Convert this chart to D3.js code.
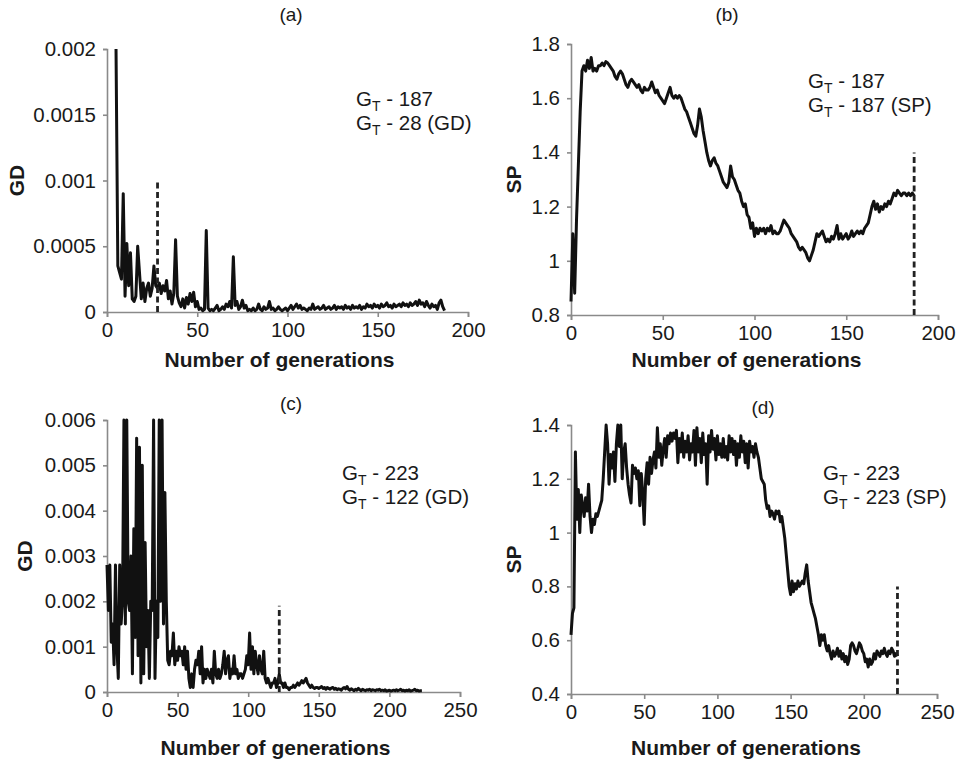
<!DOCTYPE html>
<html>
<head>
<meta charset="utf-8">
<script src="https://cdn.jsdelivr.net/npm/d3@7"></script>
<style>
body { margin: 0; background: #fff; }
svg text { font-family: "Liberation Sans", Arial, sans-serif; fill: #1a1a1a; }
</style>
</head>
<body>
<div class="mainView"></div>
<script>
// GD per generation, run 1 (starts at generation 5)
let gdStartA = 5
let gdA = [
0.0020,0.00035,0.00030,0.00025,0.00090,0.00012,0.00052,0.00020,0.00045,0.00010,
0.00008,0.00012,0.00050,0.00030,0.00010,0.00022,0.00008,0.00018,0.00022,0.00012,
0.00018,0.00035,0.00020,0.00018,0.00022,0.00014,0.00020,0.00016,0.00024,0.00010,
0.00016,0.00006,0.00014,0.00055,0.00012,0.00007,0.00004,0.00010,0.00003,0.00011,
0.00006,0.00014,0.00008,0.00015,0.00004,0.00008,0.00002,0.00003,0.00001,0.00002,
0.00062,0.00003,0.00001,0.00002,0.00001,0.00003,0.00005,0.00001,0.00002,0.00004,
0.00002,0.00006,0.00004,0.00008,0.00003,0.00042,0.00005,0.00008,0.00002,0.00004,
0.00009,0.00003,0.00005,0.00001,0.00002,0.00001,0.00003,0.00001,0.00002,0.00006,
0.00002,0.00001,0.00004,0.00002,0.00003,0.00008,0.00002,0.00003,0.00001,0.00002,
0.00004,0.00002,0.00001,0.00002,0.00003,0.00001,0.00003,0.00005,0.00002,0.00004,
0.00006,0.00003,0.00005,0.00002,0.00003,0.00002,0.00001,0.00003,0.00002,0.00006,
0.00002,0.00003,0.00004,0.00002,0.00003,0.00005,0.00002,0.00003,0.00004,0.00002,
0.00003,0.00005,0.00002,0.00004,0.00003,0.00004,0.00002,0.00005,0.00003,0.00004,
0.00002,0.00005,0.00003,0.00004,0.00003,0.00005,0.00002,0.00004,0.00003,0.00006,
0.00004,0.00005,0.00003,0.00006,0.00004,0.00005,0.00003,0.00006,0.00004,0.00005,
0.00007,0.00004,0.00005,0.00003,0.00006,0.00004,0.00005,0.00006,0.00004,0.00007,
0.00005,0.00006,0.00004,0.00007,0.00005,0.00006,0.00008,0.00005,0.00009,0.00006,
0.00007,0.00004,0.00008,0.00005,0.00003,0.00006,0.00004,0.00005,0.00002,0.00007,
0.00009,0.00004,0.00001
]

// SP per generation, run 1 (starts at generation 0)
let spStartB = 0
let spB = [
0.85,1.10,0.88,1.15,1.35,1.55,1.70,1.72,1.70,1.74,1.71,1.75,1.70,1.71,1.70,1.72,
1.72,1.73,1.72,1.735,1.73,1.72,1.71,1.70,1.68,1.67,1.69,1.70,1.69,1.67,1.65,1.64,
1.66,1.67,1.66,1.65,1.64,1.65,1.63,1.62,1.64,1.63,1.63,1.64,1.66,1.64,1.62,1.63,
1.61,1.60,1.59,1.58,1.60,1.62,1.64,1.61,1.60,1.61,1.60,1.61,1.60,1.58,1.56,1.55,
1.53,1.51,1.49,1.47,1.46,1.50,1.56,1.53,1.48,1.44,1.40,1.37,1.35,1.37,1.38,1.36,
1.35,1.33,1.31,1.29,1.28,1.27,1.29,1.35,1.31,1.30,1.28,1.26,1.25,1.22,1.20,1.21,
1.17,1.16,1.12,1.14,1.09,1.12,1.10,1.12,1.11,1.12,1.10,1.12,1.11,1.13,1.10,1.11,
1.10,1.10,1.11,1.13,1.15,1.14,1.13,1.12,1.10,1.09,1.08,1.07,1.05,1.04,1.05,1.04,
1.03,1.01,1.00,1.02,1.04,1.07,1.10,1.09,1.10,1.11,1.09,1.07,1.08,1.07,1.09,1.08,
1.10,1.13,1.08,1.10,1.08,1.09,1.10,1.08,1.09,1.11,1.09,1.10,1.11,1.10,1.11,1.10,
1.12,1.13,1.14,1.17,1.20,1.22,1.19,1.21,1.18,1.20,1.19,1.21,1.20,1.22,1.21,1.23,
1.25,1.24,1.26,1.25,1.24,1.25,1.25,1.24,1.25,1.24,1.25,1.24
]

// GD per generation, run 2
let gdStartC = 0
let gdC = [
0.0028,0.0018,0.0028,0.0011,0.0015,0.0006,0.0028,0.0010,0.0003,0.0028,
0.0015,0.0020,0.0060,0.0015,0.0060,0.0020,0.0018,0.0030,0.0004,0.0036,
0.0012,0.0056,0.0008,0.0054,0.0002,0.0050,0.0004,0.0033,0.0010,0.0018,
0.0003,0.0020,0.0018,0.0060,0.0003,0.0020,0.0012,0.0060,0.0020,0.0060,
0.0015,0.0044,0.0020,0.0007,0.0006,0.0009,0.0008,0.0013,0.0006,0.0009,
0.0007,0.0010,0.0008,0.0009,0.0006,0.0010,0.0005,0.0009,0.0003,0.0001,
0.0004,0.0001,0.0005,0.0007,0.0006,0.0009,0.0004,0.0010,0.0002,0.0005,
0.0003,0.0005,0.0004,0.0003,0.0005,0.0002,0.0009,0.0004,0.0003,0.0005,
0.0003,0.0004,0.0006,0.0009,0.0004,0.0007,0.0008,0.0003,0.0005,0.0004,
0.0008,0.0004,0.0005,0.0003,0.0004,0.0004,0.0003,0.0004,0.0005,0.0008,
0.0006,0.0013,0.0005,0.0010,0.0004,0.0009,0.0006,0.0004,0.0008,0.0005,
0.0004,0.0009,0.0003,0.0002,0.0003,0.0002,0.0001,0.0002,0.0002,0.0003,
0.0001,0.0002,0.0004,0.0002,0.0002,0.0001,0.0002,0.0001,0.0001,0.00005,
0.0001,0.0001,0.00015,0.0001,0.00015,0.0002,0.00015,0.0002,0.00025,0.0002,
0.00025,0.0003,0.0002,0.00015,0.0001,0.00015,0.0001,0.00008,0.0001,0.0001,
0.00008,0.0001,0.00012,0.00008,0.0001,0.00006,0.0001,0.00008,0.00006,0.00009,
0.0001,0.00006,0.00008,0.00005,0.00007,0.00006,0.00004,0.00008,0.0001,0.00007,
0.00012,0.00006,0.00004,0.00007,0.00005,0.00003,0.00006,0.00004,0.00008,0.00005,
0.00003,0.00006,0.00004,0.00003,0.00005,0.00004,0.00006,0.00003,0.00005,0.00004,
0.00003,0.00005,0.00004,0.00006,0.00003,0.00004,0.00003,0.00005,0.00002,0.00003,
0.00004,0.00002,0.00003,0.00004,0.00003,0.00005,0.00003,0.00004,0.00006,0.00003,
0.00004,0.00002,0.00004,0.00003,0.00005,0.00002,0.00003,0.00004,0.00006,0.00003,
0.00004,0.00002,0.00003,0.00003
]

// SP per generation, run 2
let spStartD = 0
let spD = [
0.62,0.70,0.72,1.30,1.05,1.16,1.00,1.14,1.10,1.06,1.13,1.08,1.18,1.06,1.00,1.05,
1.03,1.07,1.06,1.08,1.10,1.12,1.20,1.30,1.40,1.33,1.18,1.29,1.24,1.30,1.19,1.33,
1.40,1.32,1.40,1.20,1.30,1.33,1.24,1.18,1.14,1.11,1.25,1.22,1.24,1.20,1.23,1.10,
1.22,1.15,1.03,1.20,1.26,1.18,1.28,1.22,1.27,1.30,1.24,1.39,1.28,1.33,1.25,1.31,
1.35,1.28,1.36,1.33,1.37,1.34,1.37,1.35,1.38,1.26,1.35,1.30,1.37,1.28,1.34,1.30,
1.36,1.27,1.33,1.30,1.38,1.25,1.39,1.30,1.35,1.26,1.37,1.29,1.33,1.18,1.36,1.30,
1.38,1.31,1.35,1.27,1.36,1.29,1.33,1.28,1.35,1.28,1.32,1.27,1.36,1.30,1.35,1.29,
1.34,1.25,1.33,1.28,1.36,1.30,1.34,1.26,1.33,1.24,1.34,1.30,1.32,1.28,1.33,1.30,
1.28,1.24,1.20,1.19,1.18,1.12,1.09,1.10,1.06,1.08,1.07,1.05,1.08,1.07,1.08,1.04,
1.06,1.02,0.98,0.92,0.86,0.80,0.77,0.82,0.78,0.81,0.79,0.82,0.80,0.81,0.82,0.81,
0.85,0.88,0.82,0.78,0.74,0.72,0.70,0.68,0.65,0.62,0.58,0.62,0.60,0.62,0.58,0.56,
0.58,0.55,0.53,0.56,0.54,0.55,0.57,0.54,0.56,0.53,0.55,0.52,0.54,0.51,0.53,0.58,
0.59,0.58,0.56,0.55,0.57,0.59,0.58,0.56,0.55,0.52,0.53,0.50,0.53,0.51,0.52,0.55,
0.53,0.56,0.55,0.54,0.56,0.55,0.57,0.55,0.54,0.56,0.55,0.57,0.56,0.54,0.55,0.54
]

// tick values
let ticksGenA = [0, 50, 100, 150, 200]
let ticksGenC = [0, 50, 100, 150, 200, 250]
let ticksGdA = [0, 0.0005, 0.001, 0.0015, 0.002]
let ticksSpB = [0.8, 1, 1.2, 1.4, 1.6, 1.8]
let ticksGdC = [0, 0.001, 0.002, 0.003, 0.004, 0.005, 0.006]
let ticksSpD = [0.4, 0.6, 0.8, 1, 1.2, 1.4]

// termination markers: [generation, top of dashed line]
let markA = [28, 0.001]
let markB = [187, 1.4]
let markC = [122, 0.0019]
let markD = [223, 0.8]

let panelNames = ["(a)", "(b)", "(c)", "(d)"]
let noteA = [["187", ""], ["28", " (GD)"]]
let noteB = [["187", ""], ["187", " (SP)"]]
let noteC = [["223", ""], ["122", " (GD)"]]
let noteD = [["223", ""], ["223", " (SP)"]]

let svg = d3.select(".mainView").append("svg")
    .attr("width", 957)
    .attr("height", 761)

function drawPanel(p){
    let g = svg.append("g")
    let xScale = d3.scaleLinear().domain(p.xDomain).range([p.left, p.right])
    let yScale = d3.scaleLinear().domain(p.yDomain).range([p.bottom, p.top])

    let axisX = d3.axisBottom(xScale).tickValues(p.xTicks).tickSize(5).tickPadding(5)
        .tickFormat(d3.format("d"))
    let gx = g.append("g")
        .attr("transform", "translate(0," + p.bottom + ")")
        .call(axisX)
    let axisY = d3.axisLeft(yScale).tickValues(p.yTicks).tickSize(4).tickPadding(7)
        .tickFormat(d => String(+d.toFixed(4)))
    let gy = g.append("g")
        .attr("transform", "translate(" + p.left + ",0)")
        .call(axisY)
    ;[gx, gy].forEach(a => {
        a.select(".domain").attr("stroke", "#8a8a8a").attr("stroke-width", 1.6)
        a.selectAll(".tick line").attr("stroke", "#8a8a8a").attr("stroke-width", 1.6)
        a.selectAll(".tick text")
            .style("font-size", "20.5px")
            .attr("fill", "#1a1a1a")
    })

    // series
    let line = d3.line()
        .x((d, i) => xScale(p.start + i))
        .y(d => yScale(d))
    g.append("path")
        .datum(p.values)
        .attr("fill", "none")
        .attr("stroke", "#111")
        .attr("stroke-width", 3)
        .attr("stroke-linejoin", "round")
        .attr("d", line)

    // dashed marker
    g.append("line")
        .attr("x1", xScale(p.mark[0])).attr("x2", xScale(p.mark[0]))
        .attr("y1", yScale(p.yDomain[0])).attr("y2", yScale(p.mark[1]))
        .attr("stroke", "#222")
        .attr("stroke-width", 2.8)
        .attr("stroke-dasharray", "6,3.5")

    // axis titles
    g.append("text")
        .attr("x", (p.left + p.right) / 2 - 8)
        .attr("y", p.xTitleY)
        .attr("text-anchor", "middle")
        .style("font-size", "21px")
        .style("font-weight", "bold")
        .text("Number of generations")
    g.append("text")
        .attr("transform", "translate(" + p.yTitleX + "," + ((p.top + p.bottom) / 2) + ") rotate(-90)")
        .attr("text-anchor", "middle")
        .attr("dy", "0.35em")
        .style("font-size", "21px")
        .style("font-weight", "bold")
        .text(p.yTitle)

    // panel letter
    g.append("text")
        .attr("x", p.nameX).attr("y", p.nameY)
        .attr("text-anchor", "middle")
        .style("font-size", "19px")
        .text(p.name)

    // G_T notes
    p.note.forEach((n, i) => {
        let t = g.append("text")
            .attr("x", p.noteX)
            .attr("y", p.noteY + i * 23.5)
            .style("font-size", "20.5px")
        t.append("tspan").text("G")
        t.append("tspan").attr("dy", 5).style("font-size", "14px").text("T")
        t.append("tspan").attr("dy", -5).text(" - " + n[0] + n[1])
    })
}

drawPanel({left: 107, right: 468, top: 49, bottom: 312, xDomain: [0, 200], yDomain: [0, 0.002],
    xTicks: ticksGenA, yTicks: ticksGdA, start: gdStartA, values: gdA, mark: markA,
    yTitle: "GD", yTitleX: 17, xTitleY: 367, name: panelNames[0], nameX: 291, nameY: 21,
    note: noteA, noteX: 356, noteY: 106})
drawPanel({left: 571, right: 938, top: 44, bottom: 315, xDomain: [0, 200], yDomain: [0.8, 1.8],
    xTicks: ticksGenA, yTicks: ticksSpB, start: spStartB, values: spB, mark: markB,
    yTitle: "SP", yTitleX: 514, xTitleY: 367, name: panelNames[1], nameX: 727, nameY: 21,
    note: noteB, noteX: 808, noteY: 88})
drawPanel({left: 107, right: 460, top: 420, bottom: 692, xDomain: [0, 250], yDomain: [0, 0.006],
    xTicks: ticksGenC, yTicks: ticksGdC, start: gdStartC, values: gdC, mark: markC,
    yTitle: "GD", yTitleX: 25, xTitleY: 755, name: panelNames[2], nameX: 291, nameY: 410,
    note: noteC, noteX: 342, noteY: 480})
drawPanel({left: 571, right: 937, top: 425, bottom: 694, xDomain: [0, 250], yDomain: [0.4, 1.4],
    xTicks: ticksGenC, yTicks: ticksSpD, start: spStartD, values: spD, mark: markD,
    yTitle: "SP", yTitleX: 514, xTitleY: 755, name: panelNames[3], nameX: 763, nameY: 414,
    note: noteD, noteX: 823, noteY: 480})
</script>
</body>
</html>
